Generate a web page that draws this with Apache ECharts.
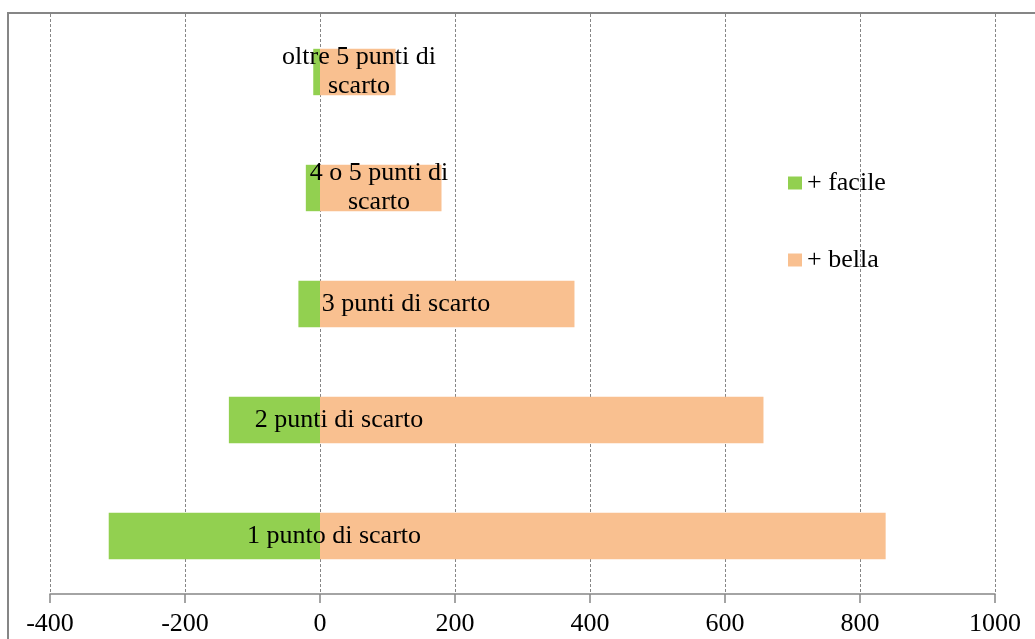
<!DOCTYPE html>
<html>
<head>
<meta charset="utf-8">
<title>Punti di scarto</title>
<script src="https://cdn.jsdelivr.net/npm/echarts@6/dist/echarts.min.js"></script>
<style>
  html, body { margin: 0; padding: 0; background: #ffffff; }
  #chart { width: 1035px; height: 639px; }
</style>
</head>
<body>
<div id="chart"></div>
<script>
// Categories, bottom to top
const categories = [
  '1 punto di scarto',
  '2 punti di scarto',
  '3 punti di scarto',
  '4 o 5 punti di\nscarto',
  'oltre 5 punti di\nscarto'
];
// "+ facile" counts (plotted to the left of zero)
const facile = [-313, -135, -32, -21, -10];
// "+ bella" counts (plotted to the right of zero)
const bella = [838, 657, 377, 180, 112];
// Value axis ticks
const xTicks = { min: -400, max: 1000, interval: 200 };

const serif = "'Liberation Serif', 'Times New Roman', serif";
const gray = '#868686';

// Horizontal shift (px from the zero line) of each category caption
const captionShift = [14, 19, 86, 59, 39];

const chart = echarts.init(document.getElementById('chart'), null, { renderer: 'canvas' });

chart.setOption({
  animation: false,
  backgroundColor: '#ffffff',
  graphic: [{
    type: 'rect',
    shape: { x: 8, y: 13, width: 1100, height: 700 },
    style: { fill: 'none', stroke: gray, lineWidth: 2 },
    silent: true,
    z: -1
  }],
  grid: { left: 50, right: 40, top: 14, bottom: 45, containLabel: false },
  legend: {
    orient: 'vertical',
    left: 783,
    top: 165,
    itemGap: 51,
    itemWidth: 14,
    itemHeight: 13,
    icon: 'rect',
    selectedMode: false,
    textStyle: { fontFamily: serif, fontSize: 26, color: '#000', padding: [0, 0, 0, 0] },
    data: ['+ facile', '+ bella']
  },
  xAxis: {
    type: 'value',
    min: xTicks.min,
    max: xTicks.max,
    interval: xTicks.interval,
    axisLine: { show: true, onZero: false, lineStyle: { color: gray, width: 1.5 } },
    axisTick: { show: true, length: 9, lineStyle: { color: gray, width: 1.5 } },
    axisLabel: {
      fontFamily: serif, fontSize: 26, color: '#000', margin: 17,
      formatter: v => String(v)
    },
    splitLine: { show: true, lineStyle: { color: gray, width: 1, type: [3, 2] } }
  },
  yAxis: {
    type: 'category',
    data: categories,
    axisLine: { show: false },
    axisTick: { show: false },
    axisLabel: { show: false },
    splitLine: { show: false }
  },
  series: [
    {
      name: '+ facile',
      type: 'bar',
      stack: 'tot',
      barWidth: '40%',
      itemStyle: { color: '#92D050' },
      data: facile
    },
    {
      name: '+ bella',
      type: 'bar',
      stack: 'tot',
      barWidth: '40%',
      itemStyle: { color: '#F9C090' },
      label: {
        show: true,
        fontFamily: serif,
        fontSize: 26,
        lineHeight: 29,
        color: '#000',
        align: 'center',
        verticalAlign: 'middle',
        formatter: p => categories[p.dataIndex]
      },
      data: bella.map((v, i) => ({
        value: v,
        label: { position: [captionShift[i], '50%'] }
      }))
    }
  ]
});
</script>
</body>
</html>
